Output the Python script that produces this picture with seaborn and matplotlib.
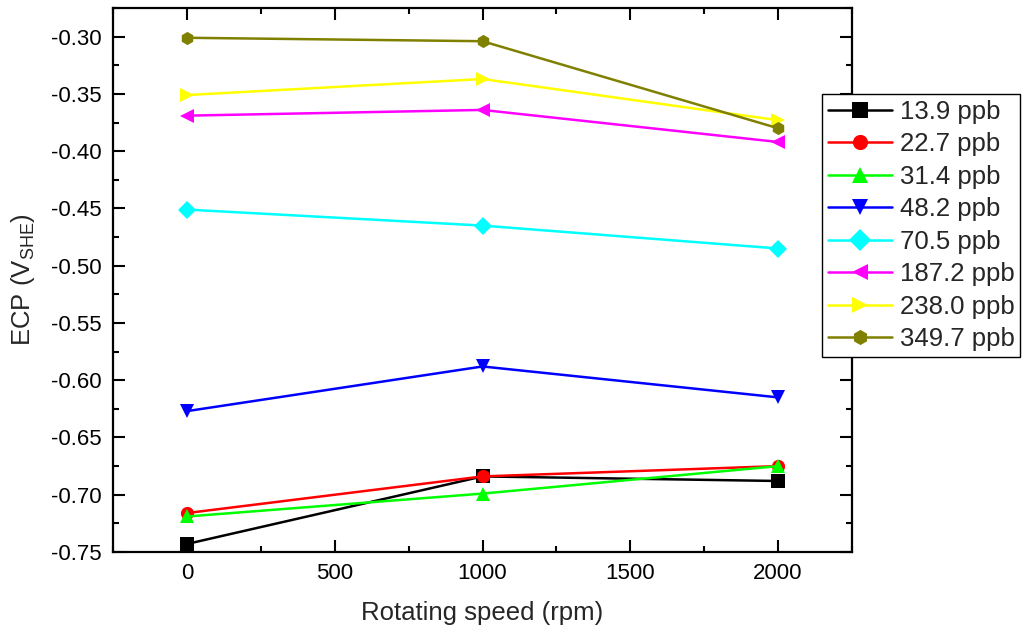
import matplotlib
matplotlib.use("Agg")
import matplotlib.pyplot as plt
from matplotlib.ticker import MultipleLocator, FormatStrFormatter
import numpy as np
import pandas as pd
import seaborn as sns

# Rotating speeds (rpm) and the ECP measured at each dissolved concentration
speeds = [0, 1000, 2000]
concentrations = ["13.9 ppb", "22.7 ppb", "31.4 ppb", "48.2 ppb",
                  "70.5 ppb", "187.2 ppb", "238.0 ppb", "349.7 ppb"]
ecp_13_9 = [-0.743, -0.684, -0.688]
ecp_22_7 = [-0.716, -0.684, -0.675]
ecp_31_4 = [-0.719, -0.699, -0.675]
ecp_48_2 = [-0.627, -0.588, -0.615]
ecp_70_5 = [-0.451, -0.465, -0.485]
ecp_187_2 = [-0.369, -0.364, -0.392]
ecp_238_0 = [-0.351, -0.337, -0.373]
ecp_349_7 = [-0.301, -0.304, -0.380]

series = [ecp_13_9, ecp_22_7, ecp_31_4, ecp_48_2,
          ecp_70_5, ecp_187_2, ecp_238_0, ecp_349_7]
colors = ["#000000", "#FF0000", "#00FF00", "#0000FF",
          "#00FFFF", "#FF00FF", "#FFFF00", "#808000"]
markers = ["s", "o", "^", "v", "D", "<", ">", "h"]

df = pd.DataFrame({
    "speed": np.tile(speeds, len(concentrations)),
    "ecp": np.concatenate(series),
    "conc": np.repeat(concentrations, len(speeds)),
})

sns.set_theme(style="ticks")
plt.rcParams["font.family"] = ["Liberation Sans", "DejaVu Sans"]
plt.rcParams["mathtext.default"] = "regular"
plt.rcParams["axes.unicode_minus"] = False

fig = plt.figure(figsize=(10.26, 6.34), dpi=100)
ax = fig.add_axes([113 / 1026, 1 - 552 / 634, (852 - 113) / 1026, (552 - 8) / 634])

sns.lineplot(data=df, x="speed", y="ecp", hue="conc", style="conc",
             hue_order=concentrations, style_order=concentrations,
             palette=colors, markers=markers, dashes=False,
             markersize=9.5, markeredgewidth=0, linewidth=1.8,
             ax=ax, legend="full")

ax.set_xlim(-250, 2250)
ax.set_ylim(-0.75, -0.275)
ax.xaxis.set_major_locator(MultipleLocator(500))
ax.xaxis.set_minor_locator(MultipleLocator(250))
ax.yaxis.set_major_locator(MultipleLocator(0.05))
ax.yaxis.set_minor_locator(MultipleLocator(0.025))
ax.yaxis.set_major_formatter(FormatStrFormatter("%.2f"))

ax.tick_params(which="both", direction="in", top=True, right=True,
               width=1.5, color="black", labelsize=16, labelcolor="black")
ax.tick_params(which="major", length=8.5, pad=8)
ax.tick_params(which="minor", length=4.5)
for sp in ax.spines.values():
    sp.set_linewidth(1.6)
    sp.set_color("black")

ax.set_xlabel("Rotating speed (rpm)", fontsize=18.5, labelpad=12)
ax.set_ylabel("ECP (V$_{SHE}$)", fontsize=18.5, labelpad=10)

handles, labels = ax.get_legend_handles_labels()
if ax.legend_ is not None:
    ax.legend_.remove()
leg = fig.legend(handles, labels, loc="upper left",
                 bbox_to_anchor=(822 / 1026, 1 - 94 / 634),
                 bbox_transform=fig.transFigure, borderaxespad=0,
                 fontsize=18.5, frameon=True, fancybox=False,
                 edgecolor="black", framealpha=1, handlelength=2.5,
                 handletextpad=0.3, labelspacing=0.33, borderpad=0.22,
                 markerscale=1.15)
leg.get_frame().set_linewidth(1.0)

fig.savefig("out.png", dpi=100)
